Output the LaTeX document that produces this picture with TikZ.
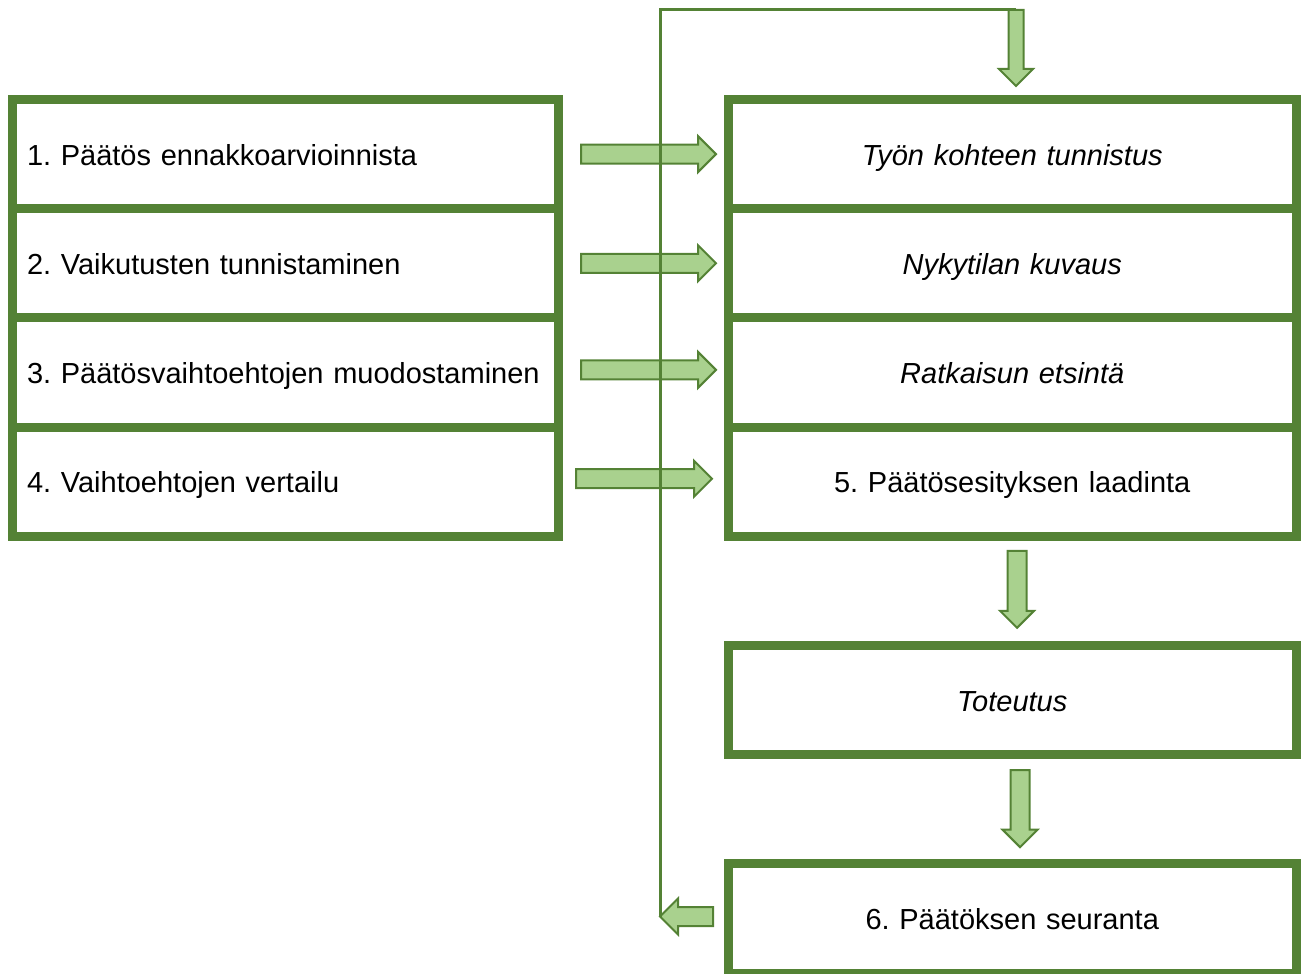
\documentclass[tikz,border=0pt]{standalone}
\usepackage{fontspec}
\setmainfont{Liberation Sans}
\usetikzlibrary{positioning, shapes.arrows}
\definecolor{boxgreen}{HTML}{548235}
\definecolor{arrowfill}{HTML}{A9D18E}
\frenchspacing

\begin{document}
\begin{tikzpicture}[x=0.5pt, y=-0.5pt, node distance=0pt,
  every node/.style={font=\fontsize{14.5}{17}\selectfont},
  lbox/.style={rectangle, draw=boxgreen, line width=4.5pt, outer sep=0pt, inner xsep=7.5pt,
    minimum width=273.25pt, minimum height=54.6pt, text width=258.25pt, align=left,
    text height=14pt, text depth=2.8pt},
  rbox/.style={lbox, minimum width=283.75pt, text width=268.75pt, align=center},
  blockarrow/.style={single arrow, draw=boxgreen, fill=arrowfill, line width=1pt,
    inner sep=4.25pt, outer sep=0pt, minimum width=17pt, single arrow head extend=4.25pt},
  link/.style={draw=boxgreen, line width=1.5pt}]
  \useasboundingbox (0,0) rectangle (1302,974);
  % left column
  \node[lbox, anchor=north west] (l1) at (12,99.5) {1. Päätös ennakkoarvioinnista};
  \node[lbox] (l2) [below=of l1] {2. Vaikutusten tunnistaminen};
  \node[lbox] (l3) [below=of l2] {3. Päätösvaihtoehtojen muodostaminen};
  \node[lbox] (l4) [below=of l3] {4. Vaihtoehtojen vertailu};
  % right column
  \node[rbox] (r1) [right=85pt of l1] {\itshape Työn kohteen tunnistus};
  \node[rbox] (r2) [below=of r1] {\itshape Nykytilan kuvaus};
  \node[rbox] (r3) [below=of r2] {\itshape Ratkaisun etsintä};
  \node[rbox] (r4) [below=of r3] {5. Päätösesityksen laadinta};
  \node[rbox] (tot) [below=54.6pt of r4] {\itshape Toteutus};
  \node[rbox] (r6) [below=54.6pt of tot] {6. Päätöksen seuranta};
  % block arrows
  \node[blockarrow, minimum height=67.5pt, anchor=tail] (a1) at ([xshift=11.25pt]l1.east) {};
  \node[blockarrow, minimum height=67.5pt, anchor=tail] (a2) at ([xshift=11.25pt]l2.east) {};
  \node[blockarrow, minimum height=67.5pt, anchor=tail] (a3) at ([xshift=11.25pt, yshift=1.3pt]l3.east) {};
  \node[blockarrow, minimum height=68pt, anchor=tail] (a4) at ([xshift=8.75pt, yshift=1.5pt]l4.east) {};
  \node[blockarrow, minimum height=38pt, minimum width=16pt, inner sep=3.25pt, single arrow head extend=4.75pt,
    shape border rotate=270, anchor=tip] (d0) at ([xshift=1.9pt, yshift=6.75pt]r1.north) {};
  \node[blockarrow, minimum height=38.5pt, minimum width=16pt, single arrow head extend=3.75pt,
    shape border rotate=270, anchor=tail] (d1) at ([xshift=2.4pt, yshift=-7.25pt]r4.south) {};
  \node[blockarrow, minimum height=38.5pt, minimum width=16.5pt, single arrow head extend=4pt,
    shape border rotate=270, anchor=tail] (d2) at ([xshift=3.9pt, yshift=-7.75pt]tot.south) {};
  \node[blockarrow, minimum height=26.5pt, shape border rotate=180, anchor=tail]
    (back) at ([xshift=-7.75pt, yshift=1pt]r6.west) {};
  % feedback line
  \draw[link] (back.tip) |- (d0.tail);
\end{tikzpicture}
\end{document}
